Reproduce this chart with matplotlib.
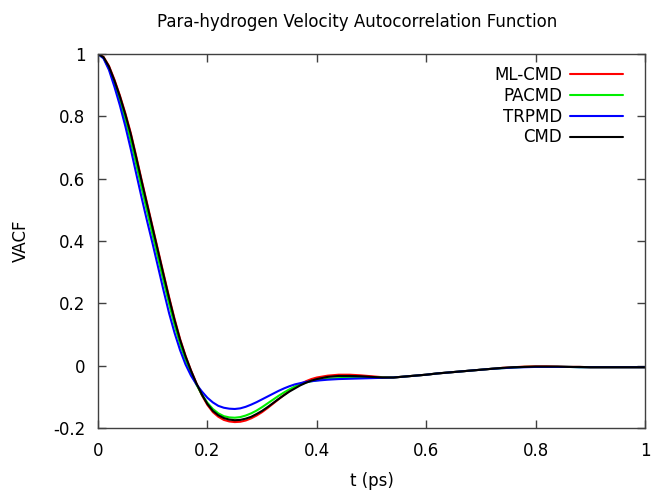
import matplotlib
matplotlib.use("Agg")
import matplotlib.pyplot as plt
from matplotlib.ticker import FuncFormatter

# time grid (ps): fine steps up to 0.40, coarser afterwards
t = [0.00, 0.01, 0.02, 0.03, 0.04, 0.05, 0.06, 0.07, 0.08, 0.09,
     0.10, 0.11, 0.12, 0.13, 0.14, 0.15, 0.16, 0.17, 0.18, 0.19,
     0.20, 0.21, 0.22, 0.23, 0.24, 0.25, 0.26, 0.27, 0.28, 0.29,
     0.30, 0.31, 0.32, 0.33, 0.34, 0.35, 0.36, 0.37, 0.38, 0.39,
     0.40, 0.42, 0.44, 0.46, 0.48, 0.50, 0.52, 0.54, 0.56, 0.58,
     0.60, 0.62, 0.64, 0.66, 0.68, 0.70, 0.72, 0.74, 0.76, 0.78,
     0.80, 0.82, 0.84, 0.86, 0.88, 0.90, 0.92, 0.94, 0.96, 0.98, 1.00]

ml_cmd = [1.000, 0.991, 0.962, 0.918, 0.867, 0.810, 0.746, 0.671, 0.594, 0.519,
          0.444, 0.369, 0.294, 0.220, 0.150, 0.086, 0.032, -0.015, -0.057, -0.095,
          -0.126, -0.149, -0.164, -0.174, -0.179, -0.181, -0.180, -0.176, -0.169, -0.160,
          -0.149, -0.136, -0.122, -0.108, -0.094, -0.081, -0.069, -0.059, -0.050, -0.043,
          -0.038, -0.032, -0.029, -0.029, -0.031, -0.034, -0.037, -0.038, -0.035, -0.032,
          -0.029, -0.025, -0.022, -0.019, -0.016, -0.013, -0.010, -0.007, -0.005, -0.003,
          -0.002, -0.002, -0.003, -0.004, -0.004, -0.005, -0.005, -0.005, -0.005, -0.005, -0.005]

pacmd = [1.000, 0.988, 0.954, 0.905, 0.850, 0.788, 0.720, 0.645, 0.568, 0.493,
         0.418, 0.344, 0.270, 0.198, 0.130, 0.070, 0.019, -0.024, -0.061, -0.093,
         -0.119, -0.139, -0.153, -0.162, -0.166, -0.167, -0.165, -0.160, -0.153, -0.144,
         -0.133, -0.121, -0.109, -0.097, -0.086, -0.076, -0.067, -0.060, -0.054, -0.050,
         -0.047, -0.042, -0.040, -0.039, -0.038, -0.038, -0.038, -0.038, -0.035, -0.032,
         -0.029, -0.025, -0.022, -0.019, -0.016, -0.013, -0.010, -0.008, -0.006, -0.004,
         -0.004, -0.004, -0.004, -0.004, -0.005, -0.005, -0.005, -0.005, -0.005, -0.005, -0.005]

trpmd = [1.000, 0.986, 0.949, 0.895, 0.835, 0.768, 0.694, 0.615, 0.537, 0.462,
         0.390, 0.315, 0.240, 0.168, 0.105, 0.050, 0.004, -0.032, -0.060, -0.083,
         -0.103, -0.118, -0.129, -0.135, -0.138, -0.139, -0.137, -0.132, -0.125, -0.117,
         -0.108, -0.099, -0.090, -0.081, -0.073, -0.066, -0.060, -0.056, -0.052, -0.050,
         -0.048, -0.045, -0.043, -0.042, -0.041, -0.040, -0.039, -0.038, -0.035, -0.032,
         -0.029, -0.025, -0.022, -0.019, -0.016, -0.013, -0.010, -0.008, -0.006, -0.005,
         -0.004, -0.004, -0.004, -0.004, -0.005, -0.005, -0.005, -0.005, -0.005, -0.005, -0.005]

cmd = [1.000, 0.990, 0.960, 0.915, 0.864, 0.806, 0.742, 0.667, 0.590, 0.515,
       0.440, 0.365, 0.290, 0.216, 0.146, 0.083, 0.030, -0.016, -0.057, -0.093,
       -0.123, -0.145, -0.159, -0.168, -0.173, -0.175, -0.174, -0.170, -0.164, -0.155,
       -0.145, -0.133, -0.120, -0.107, -0.095, -0.083, -0.073, -0.063, -0.055, -0.048,
       -0.043, -0.036, -0.033, -0.033, -0.034, -0.036, -0.038, -0.038, -0.035, -0.032,
       -0.029, -0.025, -0.022, -0.019, -0.016, -0.013, -0.010, -0.007, -0.005, -0.004,
       -0.003, -0.003, -0.003, -0.004, -0.004, -0.005, -0.005, -0.005, -0.005, -0.005, -0.005]

series = [("ML-CMD", ml_cmd, "#ff0000"),
          ("PACMD", pacmd, "#00ee00"),
          ("TRPMD", trpmd, "#0000ff"),
          ("CMD", cmd, "#000000")]

xticks = [0, 0.2, 0.4, 0.6, 0.8, 1.0]
yticks = [-0.2, 0, 0.2, 0.4, 0.6, 0.8, 1.0]

plt.rcParams['font.family'] = ['DejaVu Sans']
W, H = 653, 493
fig = plt.figure(figsize=(W / 100, H / 100), dpi=100)
ax = fig.add_axes([98 / W, 1 - 428 / H, (645 - 98) / W, (428 - 54) / H])

for name, vals, col in series:
    ax.plot(t, vals, color=col, lw=1.5, label=name,
            solid_joinstyle='round', solid_capstyle='round')

ax.set_xlim(0, 1)
ax.set_ylim(-0.2, 1)
ax.set_xticks(xticks)
ax.set_yticks(yticks)
fmt = FuncFormatter(lambda v, p: ("%g" % round(v, 6)))
ax.xaxis.set_major_formatter(fmt)
ax.yaxis.set_major_formatter(fmt)
ax.tick_params(direction='in', length=6, width=1, top=True, right=True,
               labelsize=12, color='#404040')
ax.tick_params(axis='x', pad=10)
ax.tick_params(axis='y', pad=9)
for s in ax.spines.values():
    s.set_color('#404040')
    s.set_linewidth(1)

ax.set_xlabel("t (ps)", fontsize=12, labelpad=9)
ax.set_ylabel("VACF", fontsize=12, labelpad=17)
fig.text(357 / W, 1 - 22 / H, "Para-hydrogen Velocity Autocorrelation Function",
         ha='center', va='center', fontsize=12)

leg = ax.legend(loc='upper right', bbox_to_anchor=(623 / W, 1 - 66 / H),
                bbox_transform=fig.transFigure, frameon=False, markerfirst=False,
                fontsize=12, handlelength=3.2, handletextpad=0.45,
                borderpad=0, borderaxespad=0, labelspacing=0.17)
for txt in leg.get_texts():
    txt.set_ha('right')

fig.savefig("out.png", dpi=100)
